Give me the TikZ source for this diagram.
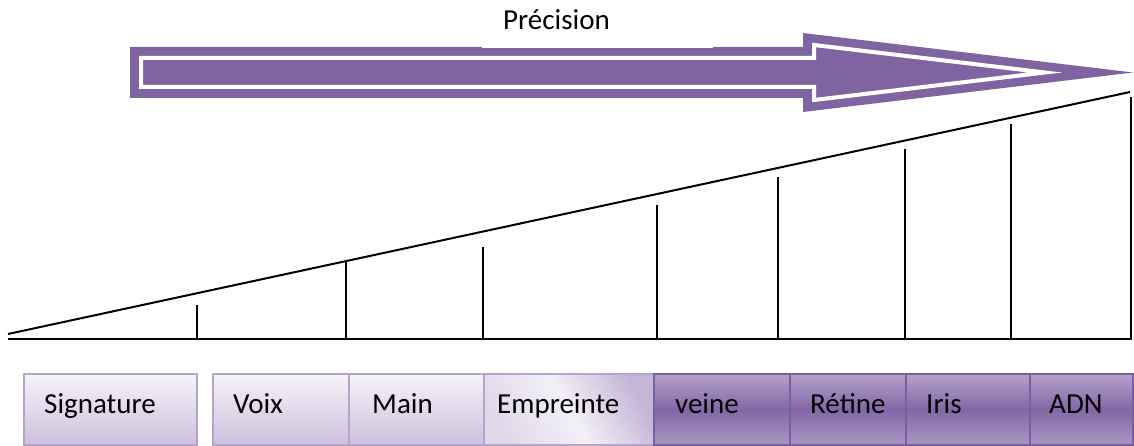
\documentclass[tikz,border=0pt]{standalone}
\usepackage{fontspec}
\setmainfont{Carlito}
\definecolor{BioPurple}{HTML}{8064A2}
\definecolor{BioPurpleTop}{HTML}{B2A3CA}
\definecolor{BioPurpleMid}{HTML}{8467A6}
\definecolor{BioPurpleBot}{HTML}{A797C2}
\definecolor{BioEdge}{HTML}{7A5E9D}
\definecolor{BioLilacTop}{HTML}{F6F3F9}
\definecolor{BioLilacBot}{HTML}{CCC0DC}
\definecolor{BioLilacEdge}{HTML}{B4A5C9}
\definecolor{BioPrintDark}{HTML}{C4B6D7}
\definecolor{BioPrintMid}{HTML}{F3F0F7}
\definecolor{BioPrintLight}{HTML}{E0D9EA}
\tikzset{
  bio text/.style={font=\fontsize{29}{34}\selectfont, text=black, inner sep=0pt},
  bio line/.style={draw=black, line width=2pt},
  bio cell/.style={anchor=north west, minimum height=71pt, inner sep=0pt, line width=2pt},
  bio light/.style={bio cell, draw=BioLilacEdge, top color=BioLilacTop, bottom color=BioLilacBot},
  bio print/.style={bio cell, draw=BioLilacEdge, top color=BioPrintDark, bottom color=BioPrintLight,
    middle color=BioPrintMid, shading angle=-60},
  bio dark/.style={bio cell, draw=BioEdge, top color=BioPurpleTop, bottom color=BioPurpleBot,
    middle color=BioPurpleMid},
}
\begin{document}
\begin{tikzpicture}[x=1pt,y=-1pt]
  \useasboundingbox (0,0) rectangle (1134,446);

  % Block arrow: purple body, thin white inner outline.
  \fill[BioPurple] (130,47) -- (803,47) -- (803,33) -- (1133,72.5) -- (803,112)
    -- (803,98) -- (130,98) -- cycle;
  \draw[white, line width=4pt, miter limit=12] (141,58) -- (814,58) -- (814,45)
    -- (1045,72.5) -- (814,100) -- (814,87) -- (141,87) -- cycle;
  \node[bio text, anchor=base west, fill=white, inner xsep=21pt, text width=189pt,
    align=left, text depth=18pt] (precision) at (482,30) {Précision};

  % Rising wedge with its ticks.
  \draw[bio line] (8,334) -- (1130,92);
  \draw[bio line] (8,339) -- (1132,339);
  \foreach \x/\top in {197/305, 346/262, 483/247, 657/205, 778/177, 905/149, 1011/124, 1131/97}
    \draw[bio line] (\x,\top) -- (\x,339);

  % Scale of methods.
  \foreach \name/\lab/\xa/\xb/\kind/\pad in {sig/Signature/23/196/light/21,
      voix/Voix/212/348/light/21, main/Main/348/483/light/24,
      empreinte/Empreinte/483/653/print/14, veine/veine/653/789/dark/22,
      retine/Rétine/789/905/dark/21, iris/Iris/905/1029/dark/21, adn/ADN/1029/1132/dark/20}
  {
    \node[bio \kind, minimum width={\xb-\xa}] (\name) at (\xa,373) {};
    \node[bio text, anchor=base west] (\name-label) at (\xa+\pad,413) {\lab};
  }
\end{tikzpicture}
\end{document}
